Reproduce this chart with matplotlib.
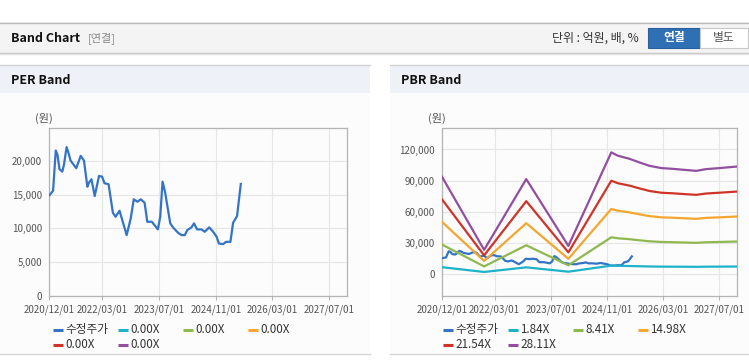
import matplotlib
matplotlib.use("Agg")
import matplotlib.pyplot as plt
import matplotlib.dates as mdates
import matplotlib.ticker as mticker
from matplotlib.patches import Rectangle
from matplotlib.lines import Line2D
import numpy as np
import pandas as pd

plt.rcParams['font.family'] = ['Noto Sans CJK KR', 'DejaVu Sans']

W, H = 749, 364

# adjusted share price (same series in both charts)
price_dates = ["2020-12-07", "2021-01-05", "2021-01-28", "2021-02-12", "2021-03-01", "2021-03-25",
               "2021-04-08", "2021-05-01", "2021-05-18", "2021-06-04", "2021-07-23", "2021-08-30",
               "2021-09-27", "2021-10-26", "2021-11-09", "2021-11-30", "2021-12-28", "2022-02-03",
               "2022-03-01", "2022-03-22", "2022-04-26", "2022-06-02", "2022-06-25", "2022-07-29",
               "2022-09-28", "2022-11-02", "2022-11-28", "2022-12-29", "2023-01-27", "2023-03-01",
               "2023-03-24", "2023-05-02", "2023-06-23", "2023-07-13", "2023-08-02", "2023-08-23",
               "2023-10-07", "2023-11-02", "2023-12-13", "2024-01-12", "2024-02-09", "2024-03-01",
               "2024-04-06", "2024-04-28", "2024-05-24", "2024-07-01", "2024-07-29", "2024-09-05",
               "2024-10-09", "2024-11-08", "2024-11-27", "2025-01-03", "2025-01-27", "2025-03-06",
               "2025-03-29", "2025-05-02", "2025-06-03"]
price_values = [14940, 15580, 21520, 20880, 18750, 18400,
                19390, 22020, 21130, 20030, 18900, 20730,
                20030, 16170, 16770, 17270, 14790, 17760,
                17660, 16680, 16530, 12310, 11720, 12610,
                9010, 11480, 14300, 13950, 14300, 13800,
                10980, 10980, 9850, 11720, 16910, 15430,
                10740, 10100, 9350, 9010, 9010, 9750,
                10150, 10740, 9850, 9850, 9500, 10150,
                9500, 8750, 7770, 7670, 8010, 8010,
                10830, 11830, 16570]

# book value per share behind the PBR bands
bps_dates = ["2020-12-01", "2021-12-01", "2022-12-01", "2023-12-01", "2024-12-07", "2025-02-01",
             "2025-05-13", "2025-08-10", "2025-11-03", "2026-02-13", "2026-05-22", "2026-09-01",
             "2026-12-13", "2027-03-07", "2027-07-01", "2027-12-01"]
bps_values = [3330, 815, 3250, 950, 4170, 4056,
              3949, 3821, 3707, 3629, 3604, 3568,
              3534, 3593, 3629, 3682]

pbr_multiples = [1.84, 8.41, 14.98, 21.54, 28.11]
per_labels = ["0.00X", "0.00X", "0.00X", "0.00X", "0.00X"]
pbr_labels = ["1.84X", "8.41X", "14.98X", "21.54X", "28.11X"]
band_colors = ["#1eb2c8", "#8fb850", "#f5a62e", "#cf3429", "#924f9f"]
price_color = "#3474c6"
price_label = "수정주가"

xtick_dates = ["2020-12-01", "2022-03-01", "2023-07-01", "2024-11-01", "2026-03-01", "2027-07-01"]
per_yticks = [0, 5000, 10000, 15000, 20000]
pbr_yticks = [0, 30000, 60000, 90000, 120000]


def fx(x):
    return x / W


def fy(y):
    return 1 - y / H


def rect(x0, y0, x1, y1, **kw):
    fig.add_artist(Rectangle((fx(x0), fy(y1)), (x1 - x0) / W, (y1 - y0) / H,
                             transform=fig.transFigure, zorder=-5, **kw))


def hline(x0, x1, y, color, lw=1.0):
    fig.add_artist(Line2D([fx(x0), fx(x1)], [fy(y), fy(y)], transform=fig.transFigure,
                          color=color, lw=lw, zorder=-4))


fig = plt.figure(figsize=(W / 100, H / 100), dpi=100)
fig.patch.set_facecolor("white")

# top header bar
rect(0, 22, W, 52.5, facecolor="#f4f4f4", edgecolor="none")
hline(0, W, 22.5, "#bcbcbc")
hline(0, W, 52.5, "#c6c6c6")
hline(0, W, 53.5, "#e4e4e4")
fig.text(fx(11), fy(38), "Band Chart", fontsize=9, fontweight="bold", color="#111111", va="center")
fig.text(fx(88), fy(38), "[연결]", fontsize=8, color="#8a8a8a", va="center")
fig.text(fx(552), fy(38), "단위 : 억원, 배, %", fontsize=8.6, color="#333333", va="center")
rect(648, 28, 700, 48, facecolor="#2f6fb4", edgecolor="#285f9c", lw=0.8)
fig.text(fx(674), fy(38), "연결", fontsize=8.5, fontweight="bold", color="white", va="center", ha="center")
rect(700, 28, 748, 48, facecolor="white", edgecolor="#c8c8c8", lw=0.8)
fig.text(fx(724), fy(38), "별도", fontsize=8.5, color="#555555", va="center", ha="center")

# panels
for (x0, x1, title) in [(0, 370, "PER Band"), (390, 749, "PBR Band")]:
    rect(x0, 64.5, x1, 354, facecolor="#fcfcfc", edgecolor="none")
    rect(x0, 64.5, x1, 92.7, facecolor="#eef2f8", edgecolor="none")
    hline(x0, x1, 64.5, "#d2d2d2")
    hline(x0, x1, 354, "#d6d6d6")
    fig.text(fx(x0 + 11), fy(80), title, fontsize=9, fontweight="bold", color="#111111", va="center")


def style_axes(ax, yticks, ylim):
    ax.set_facecolor("#fcfcfc")
    ax.set_xlim(pd.Timestamp("2020-12-01"), pd.Timestamp("2027-12-01"))
    ax.set_ylim(*ylim)
    ax.set_xticks(pd.to_datetime(xtick_dates))
    ax.xaxis.set_major_formatter(mdates.DateFormatter("%Y/%m/%d"))
    ax.set_yticks(yticks)
    ax.yaxis.set_major_formatter(mticker.FuncFormatter(lambda v, p: f"{int(v):,}"))
    ax.grid(True, color="#e6e6e6", lw=0.8)
    ax.set_axisbelow(True)
    for s in ax.spines.values():
        s.set_color("#b4b4b4")
        s.set_linewidth(0.9)
    ax.tick_params(axis="both", labelsize=7, labelcolor="#555555", color="#b4b4b4", length=3, width=0.8)
    ax.tick_params(axis="y", length=0, pad=5)
    ax.tick_params(axis="x", pad=3)


# PER band
ax1 = fig.add_axes([fx(49), fy(296), 298 / W, 168 / H])
ax1.plot(pd.to_datetime(price_dates), price_values, color=price_color, lw=1.6, zorder=3)
style_axes(ax1, per_yticks, (0, 24850))
fig.text(fx(44), fy(118), "(원)", fontsize=8, color="#555555", ha="center", va="center")

# PBR band
ax2 = fig.add_axes([fx(442), fy(296), 295 / W, 168 / H])
ax2.plot(pd.to_datetime(price_dates), price_values, color=price_color, lw=1.6, zorder=3)
bps = np.array(bps_values, dtype=float)
for m, c in zip(pbr_multiples, band_colors):
    ax2.plot(pd.to_datetime(bps_dates), bps * m, color=c, lw=1.6, zorder=4)
style_axes(ax2, pbr_yticks, (-21750, 140800))
fig.text(fx(437), fy(118), "(원)", fontsize=8, color="#555555", ha="center", va="center")


# legends, fixed-width columns like the original
def legend(x_start, labels):
    cols = [x_start + 65 * i for i in range(4)]
    entries = [(price_label, price_color)] + list(zip(labels, band_colors))
    for i, (lab, c) in enumerate(entries):
        row, col = divmod(i, 4)
        x = cols[col]
        y = 329.5 + 15 * row
        fig.add_artist(Line2D([fx(x), fx(x + 10)], [fy(y), fy(y)], transform=fig.transFigure,
                              color=c, lw=2.2, solid_capstyle="butt"))
        fig.text(fx(x + 12.5), fy(y), lab, fontsize=8.4, color="#333333", va="center")


legend(53, per_labels)
legend(443, pbr_labels)

fig.savefig("out.png", dpi=100)
